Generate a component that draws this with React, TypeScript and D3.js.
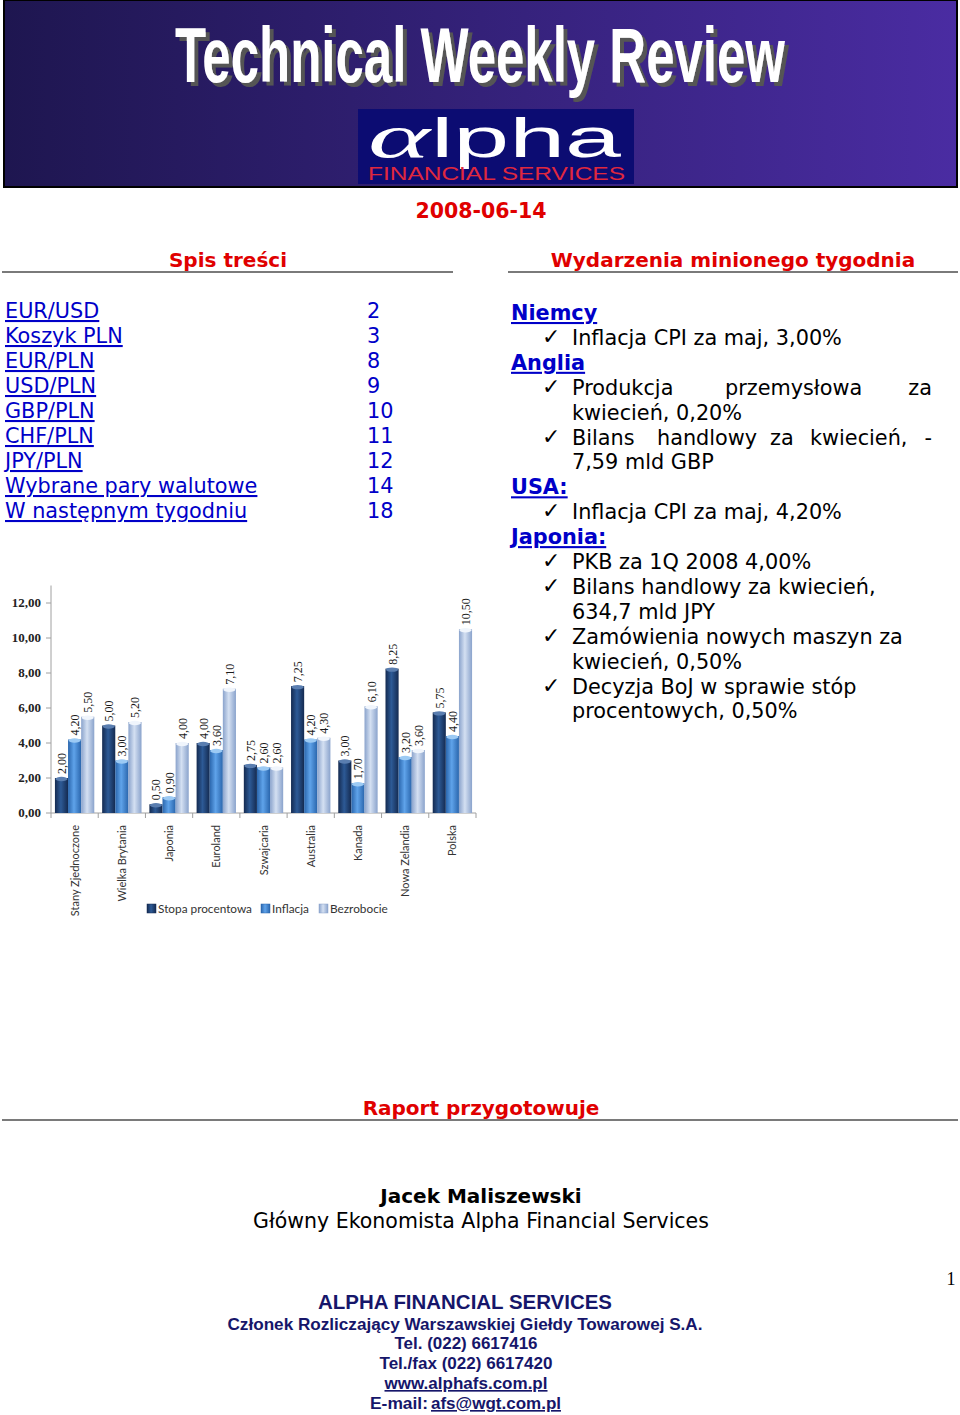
import React from "react";
import * as d3 from "d3";

const categories = ["Stany Zjednoczone", "Wielka Brytania", "Japonia", "Euroland", "Szwajcaria", "Australia", "Kanada", "Nowa Zelandia", "Polska"];
const stopaProcentowa = [2.0, 5.0, 0.5, 4.0, 2.75, 7.25, 3.0, 8.25, 5.75];
const inflacja = [4.2, 3.0, 0.9, 3.6, 2.6, 4.2, 1.7, 3.2, 4.4];
const bezrobocie = [5.5, 5.2, 4.0, 7.1, 2.6, 4.3, 6.1, 3.6, 10.5];
const seriesNames = ["Stopa procentowa", "Inflacja", "Bezrobocie"];
const yTicks = [0, 2, 4, 6, 8, 10, 12];

const tocItems = ["EUR/USD", "Koszyk PLN", "EUR/PLN", "USD/PLN", "GBP/PLN", "CHF/PLN", "JPY/PLN", "Wybrane pary walutowe", "W następnym tygodniu"];
const tocPages = ["2", "3", "8", "9", "10", "11", "12", "14", "18"];

const seriesStyle = [
  { edge: "#142a50", mid: "#2d5a96", top: "#5a7eb0" },
  { edge: "#2a66ad", mid: "#5fa3ea", top: "#9ccaf4" },
  { edge: "#8aa3cc", mid: "#d4e0f2", top: "#f0f5fc" },
];

const BLUE = "#0000c8";
const RED = "#e00000";
const NAVY = "#16166a";

function Chart() {
  const seriesValues = [stopaProcentowa, inflacja, bezrobocie];
  const x0 = d3.scaleBand<string>().domain(categories).range([51, 476]).paddingInner(0).paddingOuter(0);
  const x1 = d3.scaleBand<string>().domain(seriesNames).range([0, x0.bandwidth()]).paddingInner(0).paddingOuter(0.3);
  const y = d3.scaleLinear().domain([0, 13]).range([813, 585.5]);
  const fmt = (v: number) => v.toFixed(2).replace(".", ",");
  const bw = x1.bandwidth();
  const boundaries = categories.map((c) => x0(c)!).concat([x0.range()[1]]);
  const legendX = [147, 261, 319];

  return (
    <g>
      <defs>
        {seriesStyle.map((s, i) => (
          <linearGradient key={i} id={`bar${i}`} x1="0" x2="1" y1="0" y2="0">
            <stop offset="0" stopColor={s.edge} />
            <stop offset="0.45" stopColor={s.mid} />
            <stop offset="1" stopColor={s.edge} />
          </linearGradient>
        ))}
      </defs>
      <line x1={51} x2={51} y1={585.5} y2={813} stroke="#a0a0a0" />
      {yTicks.map((t) => (
        <g key={t}>
          <line x1={46} x2={51} y1={y(t)} y2={y(t)} stroke="#a0a0a0" />
          <text x={41} y={y(t) + 4} textAnchor="end" fontFamily="Liberation Serif" fontWeight="bold" fontSize={13} fill="#222">
            {fmt(t)}
          </text>
        </g>
      ))}
      <line x1={51} x2={476} y1={813} y2={813} stroke="#a0a0a0" />
      {boundaries.map((b, i) => (
        <line key={i} x1={b} x2={b} y1={813} y2={818} stroke="#a0a0a0" />
      ))}
      {categories.map((c, ci) => (
        <g key={c} transform={`translate(${x0(c)},0)`}>
          {seriesNames.map((s, si) => {
            const v = seriesValues[si][ci];
            const bx = x1(s)!;
            const top = y(v);
            const cx = bx + bw / 2;
            return (
              <g key={s}>
                <rect x={bx} y={top} width={bw} height={y(0) - top} fill={`url(#bar${si})`} />
                <ellipse cx={cx} cy={top + 1} rx={bw / 2 - 0.5} ry={2.2} fill={seriesStyle[si].top} />
                <text
                  transform={`translate(${cx + 4.5},${top - 4}) rotate(-90)`}
                  fontFamily="Liberation Serif"
                  fontSize={12}
                  fill="#1a1a1a"
                >
                  {fmt(v)}
                </text>
              </g>
            );
          })}
          <text
            transform={`translate(${x0.bandwidth() / 2 + 4},825) rotate(-90)`}
            textAnchor="end"
            fontFamily="Lato"
            fontSize={11}
            fill="#333"
          >
            {c}
          </text>
        </g>
      ))}
      {seriesNames.map((s, i) => (
        <g key={s} transform={`translate(${legendX[i]},904)`}>
          <rect x={0} y={0} width={9} height={9} fill={`url(#bar${i})`} stroke={seriesStyle[i].edge} strokeWidth={0.5} />
          <text x={11} y={9} fontFamily="Lato" fontSize={11.8} fill="#333">
            {s}
          </text>
        </g>
      ))}
    </g>
  );
}

function Check({ x, y }: { x: number; y: number }) {
  return (
    <text x={x} y={y - 1} fontFamily="DejaVu Sans" fontSize={22} fill="#000">
      ✓
    </text>
  );
}

export default function App() {
  const W = 960;
  const H = 1415;
  const bodyFont = "DejaVu Sans";
  const fs = 20.8;
  const lineY = (i: number) => 320 + i * 24.9;

  return (
    <svg width={W} height={H} style={{ position: "absolute", left: 0, top: 0, background: "#fff" }}>
      <defs>
        <linearGradient id="hdr" x1="0" x2="1" y1="0" y2="0">
          <stop offset="0" stopColor="#1e1650" />
          <stop offset="1" stopColor="#4a2ca2" />
        </linearGradient>
        <filter id="shadow" x="-5%" y="-20%" width="110%" height="150%">
          <feDropShadow dx={4} dy={4} stdDeviation={0.6} floodColor="#555" floodOpacity={1} />
        </filter>
      </defs>
      <rect x={4} y={0} width={953} height={187} fill="url(#hdr)" stroke="#000" strokeWidth={2} />
      <text x={175} y={82} fontFamily="Liberation Sans" fontWeight="bold" fontSize={78} textLength={610} lengthAdjust="spacingAndGlyphs" fill="#fff" filter="url(#shadow)">
        Technical Weekly Review
      </text>
      <rect x={358} y={109} width={276} height={75} fill="#0c0c72" />
      <text x={368} y={157} fontFamily="Liberation Serif" fontStyle="italic" fontSize={62} textLength={62} lengthAdjust="spacingAndGlyphs" fill="#fff">
        α
      </text>
      <text x={431} y={157} fontFamily="Liberation Sans" fontSize={56} textLength={190} lengthAdjust="spacingAndGlyphs" fill="#fff">
        lpha
      </text>
      <text x={368} y={180} fontFamily="Liberation Sans" fontSize={18} textLength={257} lengthAdjust="spacingAndGlyphs" fill="#e0283e">
        FINANCIAL SERVICES
      </text>

      <text x={481} y={218} textAnchor="middle" fontFamily={bodyFont} fontWeight="bold" fontSize={20.5} fill={RED}>
        2008-06-14
      </text>

      <text x={228} y={267} textAnchor="middle" fontFamily={bodyFont} fontWeight="bold" fontSize={20} fill={RED}>
        Spis treści
      </text>
      <line x1={2} x2={453} y1={272} y2={272} stroke="#7a7a7a" strokeWidth={2} />
      <text x={733} y={267} textAnchor="middle" fontFamily={bodyFont} fontWeight="bold" fontSize={20} fill={RED}>
        Wydarzenia minionego tygodnia
      </text>
      <line x1={508} x2={958} y1={272} y2={272} stroke="#7a7a7a" strokeWidth={2} />

      {tocItems.map((t, i) => (
        <g key={t}>
          <text x={5} y={318 + i * 25} fontFamily={bodyFont} fontSize={fs} fill={BLUE} textDecoration="underline">
            {t}
          </text>
          <text x={367} y={318 + i * 25} fontFamily={bodyFont} fontSize={fs} fill={BLUE}>
            {tocPages[i]}
          </text>
        </g>
      ))}

      <g fontFamily={bodyFont} fontSize={fs} fill="#000">
        <text x={511} y={lineY(0)} fontWeight="bold" fill={BLUE} textDecoration="underline">Niemcy</text>
        <Check x={542} y={lineY(1)} />
        <text x={572} y={lineY(1)}>Inflacja CPI za maj, 3,00%</text>
        <text x={511} y={lineY(2)} fontWeight="bold" fill={BLUE} textDecoration="underline">Anglia</text>
        <Check x={542} y={lineY(3)} />
        <text x={572} y={lineY(3)}>Produkcja</text>
        <text x={725} y={lineY(3)}>przemysłowa</text>
        <text x={932} y={lineY(3)} textAnchor="end">za</text>
        <text x={572} y={lineY(4)}>kwiecień, 0,20%</text>
        <Check x={542} y={lineY(5)} />
        <text x={572} y={lineY(5)}>Bilans</text>
        <text x={657} y={lineY(5)}>handlowy</text>
        <text x={770} y={lineY(5)}>za</text>
        <text x={810} y={lineY(5)}>kwiecień,</text>
        <text x={932} y={lineY(5)} textAnchor="end">-</text>
        <text x={572} y={lineY(6)}>7,59 mld GBP</text>
        <text x={511} y={lineY(7)} fontWeight="bold" fill={BLUE} textDecoration="underline">USA:</text>
        <Check x={542} y={lineY(8)} />
        <text x={572} y={lineY(8)}>Inflacja CPI za maj, 4,20%</text>
        <text x={511} y={lineY(9)} fontWeight="bold" fill={BLUE} textDecoration="underline">Japonia:</text>
        <Check x={542} y={lineY(10)} />
        <text x={572} y={lineY(10)}>PKB za 1Q 2008 4,00%</text>
        <Check x={542} y={lineY(11)} />
        <text x={572} y={lineY(11)}>Bilans handlowy za kwiecień,</text>
        <text x={572} y={lineY(12)}>634,7 mld JPY</text>
        <Check x={542} y={lineY(13)} />
        <text x={572} y={lineY(13)}>Zamówienia nowych maszyn za</text>
        <text x={572} y={lineY(14)}>kwiecień, 0,50%</text>
        <Check x={542} y={lineY(15)} />
        <text x={572} y={lineY(15)}>Decyzja BoJ w sprawie stóp</text>
        <text x={572} y={lineY(16)}>procentowych, 0,50%</text>
      </g>

      <Chart />

      <text x={481} y={1115} textAnchor="middle" fontFamily={bodyFont} fontWeight="bold" fontSize={20} fill={RED}>
        Raport przygotowuje
      </text>
      <line x1={2} x2={958} y1={1120} y2={1120} stroke="#7a7a7a" strokeWidth={2} />
      <text x={481} y={1203} textAnchor="middle" fontFamily={bodyFont} fontWeight="bold" fontSize={20} fill="#000">
        Jacek Maliszewski
      </text>
      <text x={481} y={1228} textAnchor="middle" fontFamily={bodyFont} fontSize={20.5} fill="#000">
        Główny Ekonomista Alpha Financial Services
      </text>

      <text x={951} y={1285} textAnchor="middle" fontFamily="Liberation Serif" fontSize={18} fill="#000">
        1
      </text>

      <g fontFamily="Liberation Sans" fontWeight="bold" fill={NAVY} textAnchor="middle">
        <text x={465} y={1309} fontSize={20} textLength={294} lengthAdjust="spacingAndGlyphs">ALPHA FINANCIAL SERVICES</text>
        <text x={465} y={1330} fontSize={16.5} textLength={475} lengthAdjust="spacingAndGlyphs">Członek Rozliczający Warszawskiej Giełdy Towarowej S.A.</text>
        <text x={466} y={1349} fontSize={16.5} textLength={143} lengthAdjust="spacingAndGlyphs">Tel. (022) 6617416</text>
        <text x={466} y={1369} fontSize={16.5} textLength={173} lengthAdjust="spacingAndGlyphs">Tel./fax (022) 6617420</text>
        <text x={466} y={1389} fontSize={16.5} textLength={163} lengthAdjust="spacingAndGlyphs" textDecoration="underline">www.alphafs.com.pl</text>
        <text x={370} y={1409} fontSize={16.5} textAnchor="start" textLength={58} lengthAdjust="spacingAndGlyphs">E-mail:</text>
        <text x={431} y={1409} fontSize={16.5} textAnchor="start" textLength={130} lengthAdjust="spacingAndGlyphs" textDecoration="underline">afs@wgt.com.pl</text>
      </g>
    </svg>
  );
}
